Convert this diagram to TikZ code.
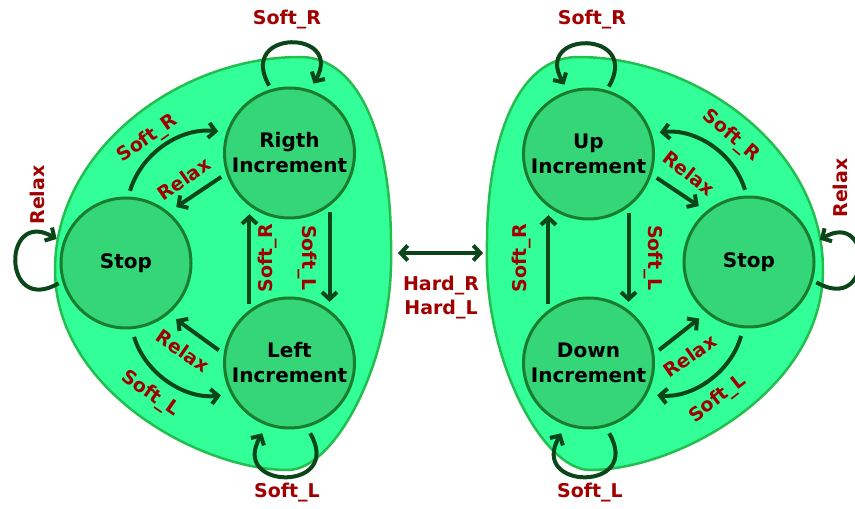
\documentclass[tikz,border=0pt]{standalone}
\usepackage{fontspec}
\setmainfont{DejaVu Sans}
\usetikzlibrary{arrows.meta}
\definecolor{blobfill}{RGB}{51,255,153}
\definecolor{blobline}{RGB}{34,190,80}
\definecolor{statefill}{RGB}{52,214,120}
\definecolor{stateline}{RGB}{25,125,45}
\definecolor{arrowcol}{RGB}{10,70,25}
\definecolor{labelcol}{RGB}{160,0,0}
\begin{document}
\begin{tikzpicture}[x=1pt,y=1pt,
  blob/.style={fill=blobfill, draw=blobline, line width=2.5pt},
  state/.style={circle, fill=statefill, draw=stateline, line width=3pt, minimum size=130pt, inner sep=0pt, align=center, font=\fontsize{20}{25}\selectfont\bfseries, text=black},
  trans/.style={draw=arrowcol, line width=4pt, -{Straight Barb[length=7pt,width=15pt]}, shorten >=8pt, shorten <=6pt},
  lbl/.style={text=labelcol, font=\fontsize{19}{24}\selectfont\bfseries, inner sep=1pt, align=center},
]
\clip (0,0) rectangle (855,509);
% blobs
\path[blob] (300,452) .. controls (360,452) and (392,370) .. (391,259)
  .. controls (394,149) and (335,39) .. (288,39)
  .. controls (200,39) and (55,119) .. (55,239)
  .. controls (55,360) and (180,452) .. (300,452) -- cycle;
\path[blob] (578,452) .. controls (518,452) and (486,370) .. (487,259)
  .. controls (484,149) and (543,39) .. (590,39)
  .. controls (678,39) and (823,119) .. (823,239)
  .. controls (823,360) and (698,452) .. (578,452) -- cycle;
% states
\node[state] (stopL) at (126,246) {Stop};
\node[state] (rinc) at (289.5,356) {Rigth\\Increment};
\node[state] (linc) at (289.5,146) {Left\\Increment};
\node[state] (upinc) at (588.5,355) {Up\\Increment};
\node[state] (downinc) at (588.5,146) {Down\\Increment};
\node[state] (stopR) at (749,247) {Stop};
% left transitions
\draw[trans, shorten <=4pt, shorten >=7pt] (rinc.106) .. controls +(120:70) and +(60:70) .. (rinc.72);
\draw[trans] (stopL.88) to[bend left=40] (rinc.162);
\draw[trans, shorten >=9pt] (rinc.198) -- (stopL.50);
\draw[trans] (linc.127) -- (rinc.233);
\draw[trans] (rinc.-53) -- (linc.53);
\draw[trans, shorten >=9pt] (linc.172) -- (stopL.-50);
\draw[trans, shorten <=8pt, shorten >=10pt] (stopL.275) to[bend right=40] (linc.208);
\draw[trans, shorten <=7pt, shorten >=9pt] (linc.-75) .. controls +(-60:75) and +(-120:75) .. (linc.-110);
\draw[trans, shorten <=4pt, shorten >=7pt] (stopL.196) .. controls +(210:70) and +(150:70) .. (stopL.162);
% right transitions
\draw[trans, shorten <=4pt, shorten >=7pt] (upinc.74) .. controls +(60:70) and +(120:70) .. (upinc.108);
\draw[trans] (stopR.92) to[bend right=40] (upinc.18);
\draw[trans, shorten >=9pt] (upinc.-18) -- (stopR.130);
\draw[trans] (downinc.127) -- (upinc.233);
\draw[trans] (upinc.-53) -- (downinc.53);
\draw[trans, shorten >=9pt] (downinc.8) -- (stopR.230);
\draw[trans, shorten <=8pt, shorten >=10pt] (stopR.265) to[bend left=40] (downinc.-28);
\draw[trans, shorten <=7pt, shorten >=9pt] (downinc.-75) .. controls +(-60:75) and +(-120:75) .. (downinc.-110);
\draw[trans, shorten <=4pt, shorten >=8pt] (stopR.-16) .. controls +(-30:70) and +(30:70) .. (stopR.16);
% middle
\coordinate (hardL) at (398,256);
\coordinate (hardR) at (483,256);
\draw[draw=arrowcol, line width=4pt, {Straight Barb[length=7pt,width=15pt]}-{Straight Barb[length=7pt,width=15pt]}] (hardL) -- (hardR);
\node[lbl] (hard) at (441,211) {Hard\_R\\Hard\_L};
% labels
\node[lbl] (l1) at (287,489) {Soft\_R};
\node[lbl] (l2) at (287,16) {Soft\_L};
\node[lbl] (l3) at (592,489) {Soft\_R};
\node[lbl] (l4) at (590,16) {Soft\_L};
\node[lbl, rotate=90] (l5) at (37,314) {Relax};
\node[lbl, rotate=90] (l6) at (840,321) {Relax};
\node[lbl, rotate=35] (l7) at (148,370) {Soft\_R};
\node[lbl, rotate=35] (l8) at (184,330) {Relax};
\node[lbl, rotate=90] (l9) at (268,251) {Soft\_R};
\node[lbl, rotate=-90] (l10) at (307,251) {Soft\_L};
\node[lbl, rotate=-35] (l11) at (183,158) {Relax};
\node[lbl, rotate=-35] (l12) at (150,115) {Soft\_L};
\node[lbl, rotate=-40] (l13) at (731,373) {Soft\_R};
\node[lbl, rotate=-38] (l14) at (689,336) {Relax};
\node[lbl, rotate=90] (l15) at (522,251) {Soft\_R};
\node[lbl, rotate=-90] (l16) at (653,251) {Soft\_L};
\node[lbl, rotate=35] (l17) at (690,153) {Relax};
\node[lbl, rotate=38] (l18) at (718,110) {Soft\_L};
\end{tikzpicture}
\end{document}
